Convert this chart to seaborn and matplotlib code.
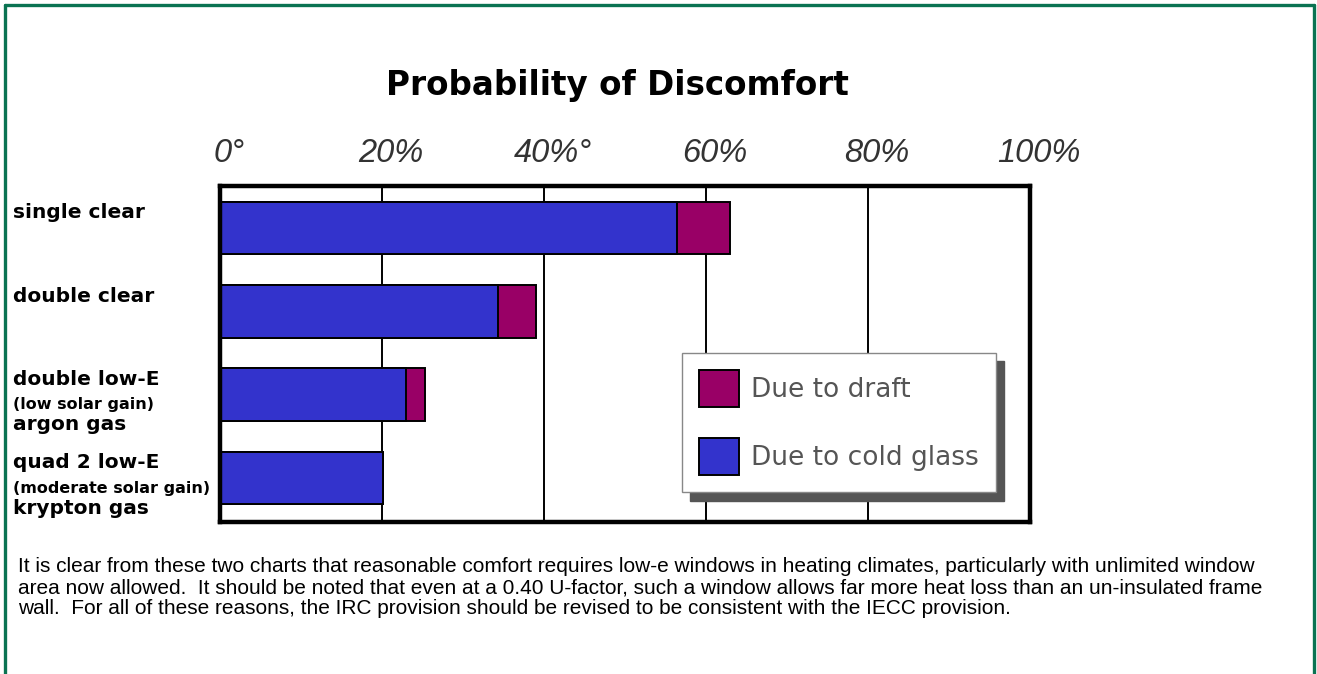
import pandas as pd
import seaborn as sns
import matplotlib.pyplot as plt
from matplotlib.lines import Line2D

# data (percent)
windows = ['single clear', 'double clear', 'double low-E', 'quad 2 low-E']
notes = ['', '', '(low solar gain)', '(moderate solar gain)']
gases = ['', '', 'argon gas', 'krypton gas']
cold_glass = [56.4, 34.3, 23.0, 20.1]
draft = [6.6, 4.7, 2.3, 0.0]
tick_values = [0, 20, 40, 60, 80, 100]
tick_labels = ['0°', '20%', '40%°', '60%', '80%', '100%']

paragraph = [
    'It is clear from these two charts that reasonable comfort requires low-e windows in heating climates, particularly with unlimited window',
    'area now allowed.  It should be noted that even at a 0.40 U-factor, such a window allows far more heat loss than an un-insulated frame',
    'wall.  For all of these reasons, the IRC provision should be revised to be consistent with the IECC provision.',
]

df = pd.DataFrame({'window': windows, 'cold': cold_glass, 'draft': draft})
df['total'] = df['cold'] + df['draft']

sns.set_style('white')
plt.rcParams['font.family'] = ['DejaVu Sans']
plt.rcParams['text.color'] = 'black'

W, H = 1317, 674
fig = plt.figure(figsize=(W / 100, H / 100), dpi=100)
ax = fig.add_axes([220 / W, 1 - 522 / H, (1030 - 220) / W, (522 - 186) / H])

# draft bar sits behind the cold glass bar so only the draft share shows
sns.barplot(data=df, x='total', y='window', color='#990066', saturation=1,
            edgecolor='black', linewidth=1.4, width=0.635, label='Due to draft', ax=ax)
sns.barplot(data=df, x='cold', y='window', color='#3333cc', saturation=1,
            edgecolor='black', linewidth=1.4, width=0.635, label='Due to cold glass', ax=ax)

ax.set_xlim(0, 100)
ax.set_ylim(3.528, -0.504)
ax.set_xticks(tick_values[1:-1])
ax.grid(axis='x', color='black', linewidth=1.4)
ax.set_axisbelow(True)
ax.tick_params(length=0, labelbottom=False, labelleft=False)
ax.set_xlabel('')
ax.set_ylabel('')
for s in ax.spines.values():
    s.set_visible(True)
    s.set_color('black')
    s.set_linewidth(3.2)

# percent labels above the frame
for v, lab in zip(tick_values, tick_labels):
    ax.annotate(lab, xy=(v, 1), xycoords=('data', 'axes fraction'),
                xytext=(9, 33), textcoords='offset pixels', ha='center', va='center',
                fontsize=23.5, style='italic', family='Liberation Sans', color='#333333',
                annotation_clip=False)

# category labels, some with smaller sub lines
for i, (w, n, g) in enumerate(zip(windows, notes, gases)):
    ax.annotate(w, xy=(13 / W, i), xycoords=('figure fraction', 'data'),
                xytext=(0, 15), textcoords='offset pixels', ha='left', va='center',
                fontsize=14.5, weight='bold', annotation_clip=False)
    if n:
        ax.annotate(n, xy=(13 / W, i), xycoords=('figure fraction', 'data'),
                    xytext=(0, -10), textcoords='offset pixels', ha='left', va='center',
                    fontsize=11.5, weight='bold', annotation_clip=False)
        ax.annotate(g, xy=(13 / W, i), xycoords=('figure fraction', 'data'),
                    xytext=(0, -30), textcoords='offset pixels', ha='left', va='center',
                    fontsize=14.5, weight='bold', annotation_clip=False)

handles, labels = ax.get_legend_handles_labels()
ax.legend(handles, labels, loc='upper left', bbox_to_anchor=(682 / W, 1 - 353 / H),
          bbox_transform=fig.transFigure, borderaxespad=0, frameon=True, fancybox=False,
          edgecolor='#888888', framealpha=1,
          shadow={'ox': 6, 'oy': -6, 'facecolor': '#555555', 'edgecolor': '#555555', 'alpha': 1},
          handlelength=1.5, handleheight=1.8, labelspacing=1.15, borderpad=0.65,
          handletextpad=0.45, fontsize=19, labelcolor='#555555')

fig.text(617 / W, 1 - 95 / H, 'Probability of Discomfort', ha='center', va='baseline',
         fontsize=23.5, weight='bold')

for k, line in enumerate(paragraph):
    fig.text(18 / W, 1 - (572 + 21 * k) / H, line, ha='left', va='baseline',
             fontsize=15, family='Liberation Sans', color='black')

# green page border (top, left, right)
green = '#0a7352'
fig.add_artist(Line2D([5 / W, 5 / W], [0, 1 - 5 / H], color=green, lw=2.4, transform=fig.transFigure))
fig.add_artist(Line2D([5 / W, 1314 / W], [1 - 5 / H, 1 - 5 / H], color=green, lw=2.4, transform=fig.transFigure))
fig.add_artist(Line2D([1314 / W, 1314 / W], [0, 1 - 5 / H], color=green, lw=2.4, transform=fig.transFigure))

fig.savefig('out.png', dpi=100)
